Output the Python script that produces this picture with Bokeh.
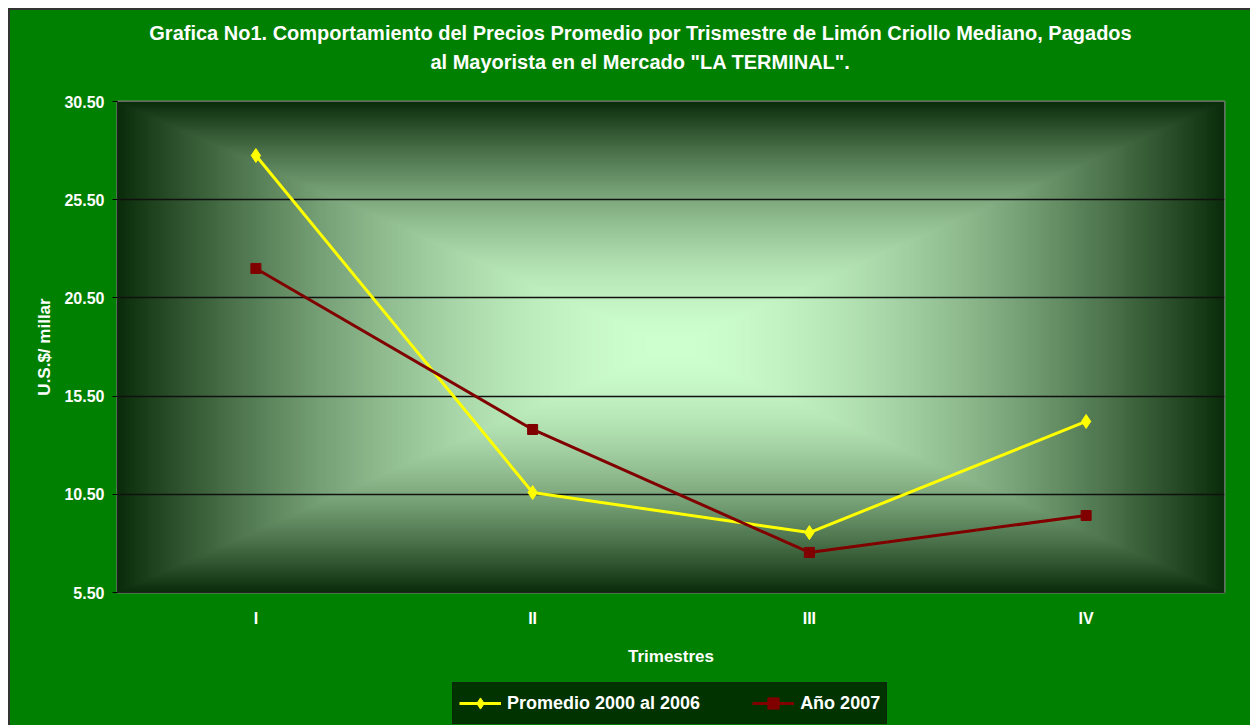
import numpy as np
from bokeh.plotting import figure
from bokeh.layouts import column
from bokeh.models import (FixedTicker, Label, Legend, LegendItem, NumeralTickFormatter,
                          FactorRange, Range1d)
from bokeh.embed import file_html
from bokeh.resources import INLINE

# ---- data ----
trimestres = ["I", "II", "III", "IV"]
promedio_2000_2006 = [27.75, 10.59, 8.55, 14.21]
anio_2007 = [22.0, 13.80, 7.54, 9.42]
y_ticks = [5.5, 10.5, 15.5, 20.5, 25.5, 30.5]
title_line1 = "Grafica No1. Comportamiento del Precios Promedio por Trismestre de Limón Criollo Mediano, Pagados"
title_line2 = "al Mayorista en el Mercado \"LA TERMINAL\"."
series_names = ["Promedio 2000 al 2006", "Año 2007"]

FONT = "'Liberation Sans', Arial, sans-serif"
BG = "#008000"
YELLOW = "#FFFF00"
MAROON = "#800000"
W_FIG = 1240


def strip_figure(height, **kw):
    f = figure(width=W_FIG, height=height, output_backend="svg", toolbar_location=None,
               min_border_left=0, min_border_right=0, min_border_top=0, min_border_bottom=0, **kw)
    f.title.visible = False
    f.axis.visible = False
    f.grid.visible = False
    f.background_fill_color = BG
    f.border_fill_color = BG
    f.outline_line_color = None
    return f


# ---- title strip ----
tf = strip_figure(80, x_range=Range1d(0, 1), y_range=Range1d(0, 1))
for txt, yy in ((title_line1, 58), (title_line2, 29)):
    tf.add_layout(Label(x=523, y=yy, x_units="screen", y_units="screen", text=txt,
                        text_align="center", text_baseline="middle", text_color="white",
                        text_font=FONT, text_font_style="bold", text_font_size="20px"))

# ---- main chart ----
p = figure(width=W_FIG, height=580, output_backend="svg", toolbar_location=None,
           x_range=FactorRange(*trimestres, range_padding=0),
           y_range=Range1d(y_ticks[0], y_ticks[-1]),
           min_border_left=107, min_border_right=26, min_border_top=11, min_border_bottom=78)
p.title.visible = False
p.background_fill_color = "#0f300f"
p.border_fill_color = BG
p.outline_line_color = "#808080"
p.outline_line_width = 2

# rectangular gradient background (style only)
H, W = 300, 600
v = np.abs(np.linspace(-1, 1, H))[:, None]
u = np.abs(np.linspace(-1, 1, W))[None, :]
t = np.maximum(u * np.ones_like(v), v * np.ones_like(u)) ** 1.75
c0 = np.array([206, 255, 206])
c1 = np.array([10, 44, 10])
rgb = c0[None, None, :] * (1 - t[..., None]) + c1[None, None, :] * t[..., None]
img = np.empty((H, W), dtype=np.uint32)
view = img.view(dtype=np.uint8).reshape((H, W, 4))
view[..., 0] = rgb[..., 0].astype(np.uint8)
view[..., 1] = rgb[..., 1].astype(np.uint8)
view[..., 2] = rgb[..., 2].astype(np.uint8)
view[..., 3] = 255
p.image_rgba(image=[img], x=0, y=y_ticks[0], dw=len(trimestres), dh=y_ticks[-1] - y_ticks[0],
             level="image")

p.xgrid.visible = False
p.ygrid.grid_line_color = "#111111"
p.ygrid.grid_line_width = 1.5
p.ygrid.level = "underlay"
p.ygrid.ticker = FixedTicker(ticks=y_ticks)

p.yaxis.ticker = FixedTicker(ticks=y_ticks)
p.yaxis.formatter = NumeralTickFormatter(format="0.00")
for ax in (p.xaxis[0], p.yaxis[0]):
    ax.major_label_text_color = "white"
    ax.major_label_text_font = FONT
    ax.major_label_text_font_style = "bold"
    ax.major_label_text_font_size = "16px"
    ax.axis_label_text_color = "white"
    ax.axis_label_text_font = FONT
    ax.axis_label_text_font_style = "bold"
    ax.axis_label_text_font_size = "17px"
    ax.axis_line_color = "#222222"
    ax.minor_tick_line_color = None
    ax.major_tick_line_color = "black"

p.yaxis.axis_label = "U.S.$/ millar"
p.yaxis.major_tick_out = 5
p.yaxis.major_tick_in = 0
p.yaxis.major_label_standoff = 8
p.yaxis.axis_label_standoff = 7

p.xaxis.axis_label = "Trimestres"
p.xaxis.major_tick_out = 0
p.xaxis.major_tick_in = 0
p.xaxis.major_label_standoff = 17
p.xaxis.axis_label_standoff = 17

p.line(trimestres, promedio_2000_2006, line_color=YELLOW, line_width=3)
p.scatter(trimestres, promedio_2000_2006, marker="diamond", size=14,
          fill_color=YELLOW, line_color=YELLOW)
p.line(trimestres, anio_2007, line_color=MAROON, line_width=3)
p.scatter(trimestres, anio_2007, marker="square", size=10,
          fill_color=MAROON, line_color=MAROON)

# ---- legend strip (series drawn out of view there; only the legend shows) ----
lg = strip_figure(55, x_range=FactorRange(*trimestres), y_range=Range1d(100, 101))
k1 = lg.line(trimestres, promedio_2000_2006, line_color=YELLOW, line_width=3)
s1 = lg.scatter(trimestres, promedio_2000_2006, marker="diamond", size=14,
                fill_color=YELLOW, line_color=YELLOW)
k2 = lg.line(trimestres, anio_2007, line_color=MAROON, line_width=3)
s2 = lg.scatter(trimestres, anio_2007, marker="square", size=10,
                fill_color=MAROON, line_color=MAROON)
legend = Legend(items=[LegendItem(label=series_names[0], renderers=[k1, s1]),
                       LegendItem(label=series_names[1], renderers=[k2, s2])],
                orientation="horizontal", location=(335, 1),
                background_fill_color="#003300", background_fill_alpha=1,
                border_line_color="#1a1a1a", border_line_width=1.5,
                label_text_color="white", label_text_font=FONT,
                label_text_font_style="bold", label_text_font_size="18px",
                glyph_width=42, glyph_height=28, label_standoff=6, spacing=52,
                padding=6, margin=0)
lg.add_layout(legend, "center")

root = column(tf, p, lg, spacing=0)
root.styles = {"margin-left": "8px", "margin-top": "8px", "background-color": BG,
               "border-left": "2px solid #333333", "border-top": "2px solid #333333"}

open("out.html", "w").write(file_html(root, INLINE))
